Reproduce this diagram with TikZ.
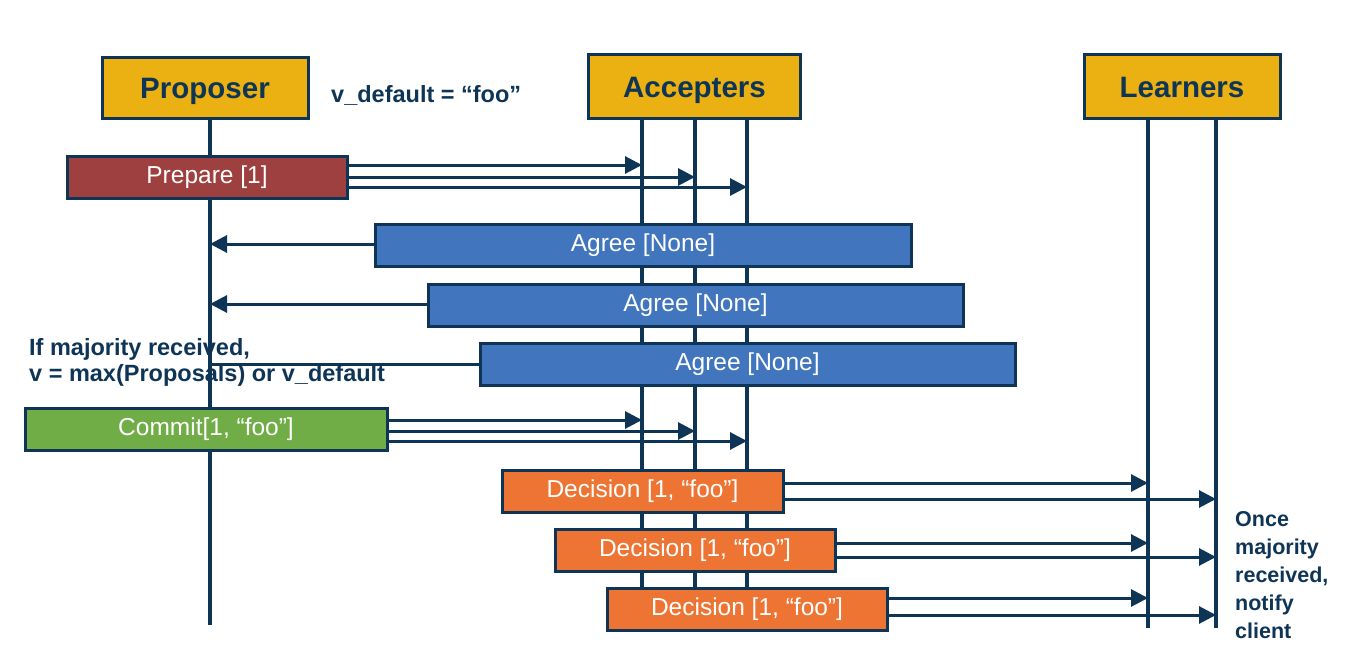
\documentclass[tikz,border=0pt]{standalone}
\usepackage{fontspec}
\setmainfont{Liberation Sans}
\usetikzlibrary{arrows.meta}
\definecolor{navy}{HTML}{0E3556}
\definecolor{hdrY}{HTML}{EBB012}
\definecolor{prepR}{HTML}{9E403F}
\definecolor{agreeB}{HTML}{4176BE}
\definecolor{commitG}{HTML}{70AD47}
\definecolor{decO}{HTML}{EE7433}
\tikzset{
  hdr/.style={draw=navy, line width=3pt, fill=hdrY, text=navy, inner sep=0pt,
    text height=21pt, text depth=0pt,
    font=\fontsize{29.5}{32}\selectfont\bfseries},
  msgbox/.style={draw=navy, line width=3pt, text=white, inner sep=0pt,
    minimum height=42pt, font=\fontsize{24.5}{28}\selectfont},
  life/.style={draw=navy, line width=3.2pt},
  arr/.style={draw=navy, line width=3pt, -{Triangle[length=17pt,width=17pt]}},
  plain/.style={draw=navy, line width=3pt},
  note/.style={text=navy, inner sep=0pt, font=\fontsize{23.5}{26}\selectfont\bfseries, align=left},
  sidenote/.style={text=navy, inner sep=0pt, font=\fontsize{21.5}{28}\selectfont\bfseries, align=left}
}
\begin{document}
\begin{tikzpicture}[x=1pt,y=-1pt]
\useasboundingbox (0,0) rectangle (1360,669);
% lifelines
\coordinate (Pt) at (210,118); \coordinate (Pb) at (210,625);
\coordinate (A1t) at (642,118); \coordinate (A1b) at (642,620);
\coordinate (A2t) at (695,118); \coordinate (A2b) at (695,620);
\coordinate (A3t) at (747,118); \coordinate (A3b) at (747,620);
\coordinate (L1t) at (1148,118); \coordinate (L1b) at (1148,628);
\coordinate (L2t) at (1216,118); \coordinate (L2b) at (1216,628);
\draw[life] (Pt) -- (Pb);
\draw[life] (A1t) -- (A1b);
\draw[life] (A2t) -- (A2b);
\draw[life] (A3t) -- (A3b);
\draw[life] (L1t) -- (L1b);
\draw[life] (L2t) -- (L2b);
% headers
\node[hdr, minimum width=206pt, minimum height=60pt] (prop) at (205,88) {Proposer};
\node[hdr, minimum width=212pt, minimum height=63pt] (acc) at (694.5,86.5) {Accepters};
\node[hdr, minimum width=196pt, minimum height=64pt] (lea) at (1182,86.5) {Learners};
\node[note, anchor=base west] (vdef) at (331,102) {v\_default = “foo”};
% agree 3 line (under note)
\node[msgbox, fill=agreeB, minimum width=535pt] (ag3) at (747.5,364.5) {Agree [None]};
\draw[plain] (ag3.west |- 0,364) -- (Pt |- 0,364);
\node[note, anchor=north west] (maj) at (29,338) {If majority received,\\v = max(Proposals) or v\_default};
% prepare
\node[msgbox, fill=prepR, minimum width=280pt] (prep) at (207,177) {Prepare [1]};
\draw[arr] (prep.east |- 0,165) -- (A1t |- 0,165);
\draw[arr] (prep.east |- 0,177) -- (A2t |- 0,177);
\draw[arr] (prep.east |- 0,187) -- (A3t |- 0,187);
% agree
\node[msgbox, fill=agreeB, minimum width=536pt] (ag1) at (643,245.5) {Agree [None]};
\draw[arr] (ag1.west |- 0,244) -- (Pt |- 0,244);
\node[msgbox, fill=agreeB, minimum width=535pt] (ag2) at (695.5,305) {Agree [None]};
\draw[arr] (ag2.west |- 0,304) -- (Pt |- 0,304);
% commit
\node[msgbox, fill=commitG, minimum width=362pt] (com) at (206,429) {Commit[1, “foo”]};
\draw[arr] (com.east |- 0,420) -- (A1t |- 0,420);
\draw[arr] (com.east |- 0,431) -- (A2t |- 0,431);
\draw[arr] (com.east |- 0,441) -- (A3t |- 0,441);
% decisions
\node[msgbox, fill=decO, minimum width=281pt] (d1) at (642.5,491) {Decision [1, “foo”]};
\draw[arr] (d1.east |- 0,483) -- (L1t |- 0,483);
\draw[arr] (d1.east |- 0,499) -- (L2t |- 0,499);
\node[msgbox, fill=decO, minimum width=280pt] (d2) at (695,550) {Decision [1, “foo”]};
\draw[arr] (d2.east |- 0,543) -- (L1t |- 0,543);
\draw[arr] (d2.east |- 0,557) -- (L2t |- 0,557);
\node[msgbox, fill=decO, minimum width=280pt] (d3) at (747,609) {Decision [1, “foo”]};
\draw[arr] (d3.east |- 0,598) -- (L1t |- 0,598);
\draw[arr] (d3.east |- 0,615) -- (L2t |- 0,615);
\node[sidenote, anchor=north west] (once) at (1235,511) {Once\\majority\\received,\\notify\\client};
\end{tikzpicture}
\end{document}
